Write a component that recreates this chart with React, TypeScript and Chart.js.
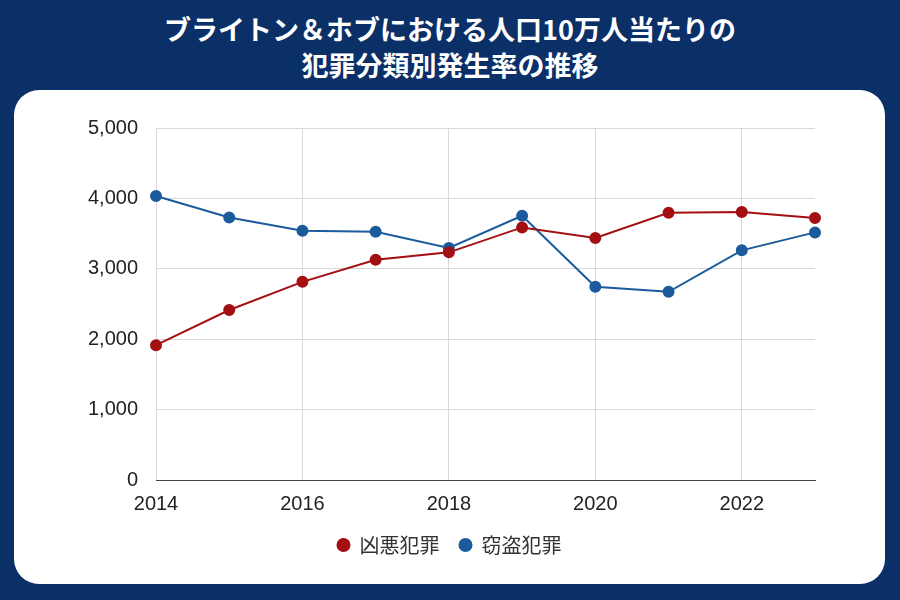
import React, { useEffect, useRef } from "react";
import { Chart, registerables } from "chart.js";

Chart.register(...registerables);

const years = ["2014", "2015", "2016", "2017", "2018", "2019", "2020", "2021", "2022", "2023"];
const violentCrime = [1915, 2415, 2815, 3127, 3234, 3588, 3438, 3796, 3806, 3721];
const theftCrime = [4035, 3730, 3540, 3525, 3296, 3754, 2744, 2673, 3262, 3517];
const seriesNames = ["凶悪犯罪", "窃盗犯罪"];
const titleLines = ["ブライトン＆ホブにおける人口10万人当たりの", "犯罪分類別発生率の推移"];

const RED = "#a30f12";
const BLUE = "#1b5b9b";

export default function App() {
  const ref = useRef<HTMLCanvasElement>(null);
  useEffect(() => {
    document.body.style.margin = "0";
    const chart = new Chart(ref.current!, {
      type: "line",
      data: {
        labels: years,
        datasets: [
          {
            label: seriesNames[0],
            data: violentCrime,
            borderColor: RED,
            backgroundColor: RED,
            pointBackgroundColor: RED,
            pointBorderColor: RED,
            borderWidth: 2,
            pointRadius: 5,
            tension: 0,
            yAxisID: "y",
          },
          {
            label: seriesNames[1],
            data: theftCrime,
            borderColor: BLUE,
            backgroundColor: BLUE,
            pointBackgroundColor: BLUE,
            pointBorderColor: BLUE,
            borderWidth: 2,
            pointRadius: 5,
            tension: 0,
            yAxisID: "y",
          },
        ],
      },
      options: {
        animation: false,
        responsive: false,
        maintainAspectRatio: false,
        layout: { padding: { left: 0, right: 0, top: 38, bottom: 19 } },
        plugins: {
          title: { display: false },
          tooltip: { enabled: false },
          legend: {
            position: "bottom",
            labels: {
              usePointStyle: true,
              pointStyle: "circle",
              boxWidth: 12,
              boxHeight: 8.5,
              padding: 20,
              color: "#333",
              font: { family: "'Noto Sans CJK JP', sans-serif", size: 20 },
            },
          },
        },
        scales: {
          x: {
            type: "category",
            offset: false,
            afterFit: (s: any) => {
              s.height = 35;
            },
            grid: {
              color: (ctx: any) => (ctx.index % 2 === 0 ? "#d9d9d9" : "rgba(0,0,0,0)"),
              drawTicks: false,
              lineWidth: 1,
            },
            border: { color: "#444", width: 1 },
            ticks: {
              autoSkip: false,
              maxRotation: 0,
              padding: 12,
              color: "#222",
              font: { family: "'Liberation Sans', Arial, sans-serif", size: 20 },
              callback: (_v: any, i: number) => (i % 2 === 0 ? years[i] : ""),
            },
          },
          y: {
            min: 0,
            max: 5000,
            afterFit: (s: any) => {
              s.width = 142;
            },
            grid: { color: "#d9d9d9", drawTicks: false },
            border: { display: false },
            ticks: {
              stepSize: 1000,
              padding: 18,
              color: "#222",
              font: { family: "'Liberation Sans', Arial, sans-serif", size: 20 },
              callback: (v: any) => Number(v).toLocaleString("en-US"),
            },
          },
          yRight: {
            position: "right",
            min: 0,
            max: 5000,
            afterFit: (s: any) => {
              s.width = 70;
            },
            grid: { display: false },
            border: { display: false },
            ticks: { display: false },
          },
        },
      },
    });
    return () => chart.destroy();
  }, []);

  return (
    <div
      style={{
        position: "absolute",
        left: 0,
        top: 0,
        width: 900,
        height: 600,
        background: "#0b3068",
        overflow: "hidden",
      }}
    >
      <div
        style={{
          position: "absolute",
          top: 11,
          left: 0,
          width: 900,
          textAlign: "center",
          color: "#fff",
          fontFamily: "'Noto Sans CJK JP', sans-serif",
          fontWeight: 700,
          fontSize: 27,
          lineHeight: "36px",
        }}
      >
        {titleLines.map((t) => (
          <div key={t}>{t}</div>
        ))}
      </div>
      <div
        style={{
          position: "absolute",
          left: 14,
          top: 90,
          width: 871,
          height: 494,
          background: "#fff",
          borderRadius: 25,
          overflow: "hidden",
        }}
      >
        <canvas ref={ref} width={871} height={494} style={{ display: "block" }} />
      </div>
    </div>
  );
}
